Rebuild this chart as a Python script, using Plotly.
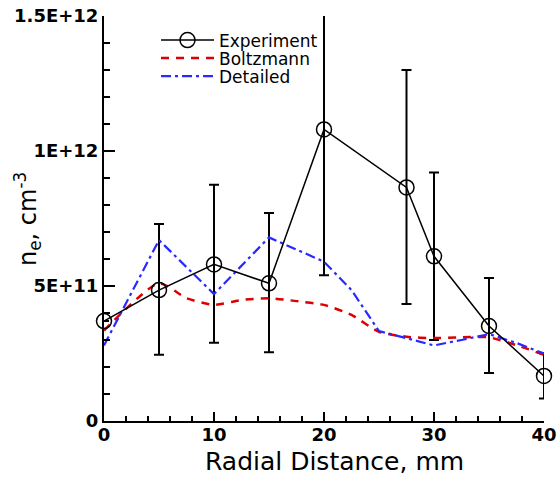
import plotly.graph_objects as go

# Experiment
exp_x = [0, 5, 10, 15, 20, 27.5, 30, 35, 40]
exp_y = [3.7e11, 4.85e11, 5.8e11, 5.1e11, 1.08e12, 8.65e11, 6.1e11, 3.52e11, 1.67e11]
exp_err_up = [None, 2.45e11, 2.95e11, 2.6e11, 5.4e11, 4.35e11, 3.1e11, 1.78e11, 0.84e11]
exp_err_dn = [None, 2.4e11, 2.9e11, 2.55e11, 5.4e11, 4.32e11, 3.1e11, 1.74e11, 0.84e11]

# Boltzmann
bz_x = [0, 5, 7.5, 10, 12.5, 15, 17.5, 20, 22.5, 25, 27.5, 30, 32.5, 35, 37.5, 40]
bz_y = [3.35e11, 5.1e11, 4.55e11, 4.3e11, 4.48e11, 4.55e11, 4.44e11, 4.3e11, 3.93e11,
        3.3e11, 3.12e11, 3.07e11, 3.1e11, 3.1e11, 2.81e11, 2.45e11]

# Detailed
dt_x = [0, 5, 10, 15, 20, 22.5, 25, 27.5, 30, 32.5, 35, 37.5, 40]
dt_y = [2.8e11, 6.7e11, 4.7e11, 6.8e11, 5.9e11, 4.85e11, 3.33e11, 3.06e11, 2.8e11,
        3.0e11, 3.22e11, 2.89e11, 2.5e11]

x_ticks = [0, 10, 20, 30, 40]
y_tickvals = [0, 5e11, 1e12, 1.5e12]
y_ticktext = ["0", "5E+11", "1E+12", "1.5E+12"]

FONT = "DejaVu Sans, Liberation Sans, sans-serif"

W, H = 557, 481
PL, PR, PT, PB = 104, 544, 16, 421

fig = go.Figure()

fig.add_trace(go.Scatter(
    x=exp_x, y=exp_y, mode="markers", showlegend=False, hoverinfo="skip",
    marker=dict(size=1, opacity=0),
    error_y=dict(type="data", symmetric=False, array=exp_err_up, arrayminus=exp_err_dn,
                 color="black", thickness=2, width=5),
    cliponaxis=True,
))
fig.add_trace(go.Scatter(
    x=bz_x, y=bz_y, mode="lines", name="Boltzmann", legend="legend2",
    line=dict(color="rgb(220,0,0)", width=2.5, dash="8px,7px", shape="spline", smoothing=0.6),
))
fig.add_trace(go.Scatter(
    x=dt_x, y=dt_y, mode="lines", name="Detailed", legend="legend3",
    line=dict(color="rgb(40,40,255)", width=2.2, dash="10px,4px,3px,4px"),
))
fig.add_trace(go.Scatter(
    x=exp_x, y=exp_y, mode="lines+markers", name="Experiment", legend="legend",
    line=dict(color="black", width=1.5),
    marker=dict(symbol="circle-open", size=15, color="black", line=dict(width=1.5, color="black")),
    cliponaxis=False,
))

def leg(ypix):
    return dict(x=(156 - PL) / (PR - PL), y=1 - (ypix - PT) / (PB - PT),
                xanchor="left", yanchor="middle",
                font=dict(size=17, color="black", family=FONT), bgcolor="rgba(0,0,0,0)",
                itemwidth=53, borderwidth=0)

fig.update_layout(
    width=W, height=H,
    margin=dict(l=PL, r=W - PR, t=PT, b=H - PB),
    paper_bgcolor="white", plot_bgcolor="white",
    font=dict(family=FONT, color="black"),
    legend=leg(40.5), legend2=leg(58.5), legend3=leg(76.5),
    xaxis=dict(range=[0, 40], showline=True, linecolor="black", linewidth=2,
               tickvals=x_ticks, ticks="inside", ticklen=9, tickwidth=1.5, tickcolor="black",
               tickfont=dict(size=18, family=FONT, weight="bold"), ticklabelstandoff=-4,
               ticklabeloverflow="allow",
               minor=dict(dtick=2, ticks="inside", ticklen=5, tickwidth=1.5, tickcolor="black"),
               showgrid=False, zeroline=False, mirror=False, automargin=False),
    yaxis=dict(range=[0, 1.5e12], showline=True, linecolor="black", linewidth=2,
               tickvals=y_tickvals, ticktext=y_ticktext, ticks="inside", ticklen=11,
               tickwidth=1.5, tickcolor="black", ticklabeloverflow="allow",
               tickfont=dict(size=18, family=FONT, weight="bold"),
               minor=dict(dtick=1e11, ticks="inside", ticklen=6, tickwidth=1.5, tickcolor="black"),
               showgrid=False, zeroline=False, automargin=False),
    annotations=[
        dict(text="Radial Distance, mm", xref="paper", yref="paper",
             x=(334.5 - PL) / (PR - PL), y=1 - (461 - PT) / (PB - PT),
             xanchor="center", yanchor="middle", showarrow=False,
             font=dict(size=25, family=FONT, color="black")),
        dict(text="n<sub>e</sub>, cm<sup>-3</sup>", xref="paper", yref="paper",
             x=(27 - PL) / (PR - PL), y=1 - (219 - PT) / (PB - PT), textangle=-90,
             xanchor="center", yanchor="middle", showarrow=False,
             font=dict(size=24, family=FONT, color="black")),
    ],
)

fig.write_html("out.html", post_script="document.body.style.margin='0px';",
               config={"displayModeBar": False})
